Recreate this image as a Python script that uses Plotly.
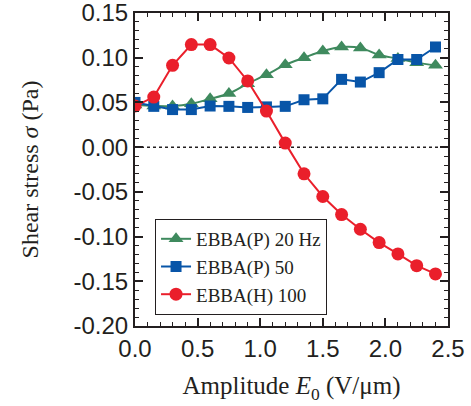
import plotly.graph_objects as go

# Data
x_vals = [0.0, 0.15, 0.3, 0.45, 0.6, 0.75, 0.9, 1.05, 1.2, 1.35, 1.5, 1.65, 1.8, 1.95, 2.1, 2.25, 2.4]
green_20hz = [0.047, 0.046, 0.046, 0.0486, 0.054, 0.060, 0.071, 0.081, 0.092, 0.100, 0.1075, 0.112, 0.111, 0.103, 0.099, 0.0945, 0.0915]
blue_50 = [0.050, 0.0456, 0.042, 0.042, 0.046, 0.0456, 0.0444, 0.045, 0.0456, 0.053, 0.054, 0.0758, 0.0728, 0.0833, 0.098, 0.098, 0.112]
red_100 = [0.046, 0.056, 0.0915, 0.1147, 0.1147, 0.0997, 0.074, 0.0403, 0.0045, -0.0298, -0.0552, -0.0754, -0.0918, -0.1067, -0.1194, -0.1325, -0.1418]

names = ["EBBA(P) 20 Hz", "EBBA(P) 50", "EBBA(H) 100"]

y_tickvals = [0.15, 0.10, 0.05, 0.00, -0.05, -0.10, -0.15, -0.20]
y_ticktext = ["0.15", "0.10", "0.05", "0.00", "-0.05", "-0.10", "-0.15", "-0.20"]
x_tickvals = [0.0, 0.5, 1.0, 1.5, 2.0, 2.5]
x_ticktext = ["0.0", "0.5", "1.0", "1.5", "2.0", "2.5"]

GREEN = "#3f8a5e"
BLUE = "#0855a8"
RED = "#ea1f2b"
AXC = "#231f20"

fig = go.Figure()
fig.add_trace(go.Scatter(x=x_vals, y=green_20hz, name=names[0], mode="lines+markers",
                         line=dict(color=GREEN, width=2, shape="spline"),
                         marker=dict(symbol="triangle-up", size=13, color=GREEN)))
fig.add_trace(go.Scatter(x=x_vals, y=blue_50, name=names[1], mode="lines+markers",
                         line=dict(color=BLUE, width=2),
                         marker=dict(symbol="square", size=11, color=BLUE)))
fig.add_trace(go.Scatter(x=x_vals, y=red_100, name=names[2], mode="lines+markers",
                         line=dict(color=RED, width=2),
                         marker=dict(symbol="circle", size=13, color=RED)))

fig.add_shape(type="line", xref="paper", x0=0, x1=1, yref="y", y0=0, y1=0,
              line=dict(color=AXC, width=1.5, dash="dot"), layer="below")

tickfont = dict(family="Liberation Sans, Arial", size=24, color=AXC)
serif_x = dict(family="Liberation Serif, Times New Roman", size=25, color=AXC)
serif_y = dict(family="Liberation Serif, Times New Roman", size=24, color=AXC)

fig.update_xaxes(range=[0, 2.5], tickmode="array", tickvals=x_tickvals, ticktext=x_ticktext,
                 ticks="inside", ticklen=8, tickwidth=1.5, tickcolor=AXC,
                 showline=True, linewidth=2, linecolor=AXC, mirror="allticks",
                 showgrid=False, zeroline=False, tickfont=tickfont, automargin=False,
                 ticklabeloverflow="allow",
                 minor=dict(tickmode="linear", tick0=0, dtick=0.1, ticks="inside", ticklen=4,
                            tickwidth=1.2, tickcolor=AXC, showgrid=False),
                 title=dict(text="Amplitude <i>E</i><sub>0</sub> (V/μm)", font=serif_x, standoff=16))
fig.update_yaxes(range=[-0.20, 0.15], tickmode="array", tickvals=y_tickvals, ticktext=y_ticktext,
                 ticks="inside", ticklen=8, tickwidth=1.5, tickcolor=AXC,
                 showline=True, linewidth=2, linecolor=AXC, mirror="allticks",
                 showgrid=False, zeroline=False, tickfont=tickfont, automargin=False,
                 ticklabeloverflow="allow",
                 minor=dict(tickmode="linear", tick0=0, dtick=0.01, ticks="inside", ticklen=4,
                            tickwidth=1.2, tickcolor=AXC, showgrid=False),
                 title=dict(text="Shear stress <i>σ</i> (Pa)", font=serif_y, standoff=28))

fig.update_layout(
    width=471, height=406,
    margin=dict(l=135, r=23, t=13, b=80),
    paper_bgcolor="white", plot_bgcolor="white",
    hovermode=False,
    legend=dict(x=0.064, y=0.342, xanchor="left", yanchor="top",
                bgcolor="white", bordercolor=AXC, borderwidth=1,
                font=dict(family="Liberation Serif, Times New Roman", size=19, color=AXC),
                tracegroupgap=0, itemwidth=30),
    showlegend=True,
)

fig.write_html("out.html", config={"displayModeBar": False},
               post_script="document.body.style.margin='0';")
